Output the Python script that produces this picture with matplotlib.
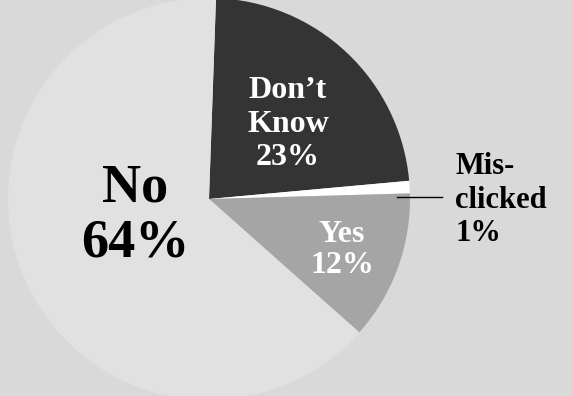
import matplotlib.pyplot as plt

# survey answers, clockwise from the top
labels = ["Don\u2019t\nKnow", "Mis-\nclicked", "Yes", "No"]
shares = [23, 1, 12, 64]
colors = ["#343434", "#ffffff", "#a5a5a5", "#e1e1e1"]

plt.rcParams['font.family'] = ['Liberation Serif', 'DejaVu Serif']

fig = plt.figure(figsize=(5.72, 3.96), dpi=100)
fig.patch.set_facecolor('#d9d9d9')
ax = fig.add_axes([0, 0, 1, 1])
ax.set_facecolor('#d9d9d9')

# work in pixel-like data units so the pie can run off the top and bottom
cx, cy, r = 209, 197, 201
ax.pie(shares, colors=colors, startangle=88, counterclock=False,
       center=(cx, cy), radius=r, frame=True,
       wedgeprops=dict(linewidth=0))
ax.set_xlim(0, 572)
ax.set_ylim(0, 396)
ax.set_aspect('equal')
ax.axis('off')

# labels
ax.text(288, 272, f"{labels[0]}\n{shares[0]}%", color='white', fontsize=23,
        fontweight='bold', ha='center', va='center', linespacing=1.2)
ax.text(135, 180, f"{labels[3]}\n{shares[3]}%", color='black', fontsize=39,
        fontweight='bold', ha='center', va='center', linespacing=1.15)
ax.text(342, 146, f"{labels[2]}\n{shares[2]}%", color='white', fontsize=23,
        fontweight='bold', ha='center', va='center', linespacing=1.12)
ax.text(455, 196, f"{labels[1]}\n{shares[1]}%", color='black', fontsize=22,
        fontweight='bold', ha='left', va='center', linespacing=1.2)
ax.plot([397, 442], [199, 199], color='black', linewidth=1)

fig.savefig('out.png', dpi=100, facecolor=fig.get_facecolor())
